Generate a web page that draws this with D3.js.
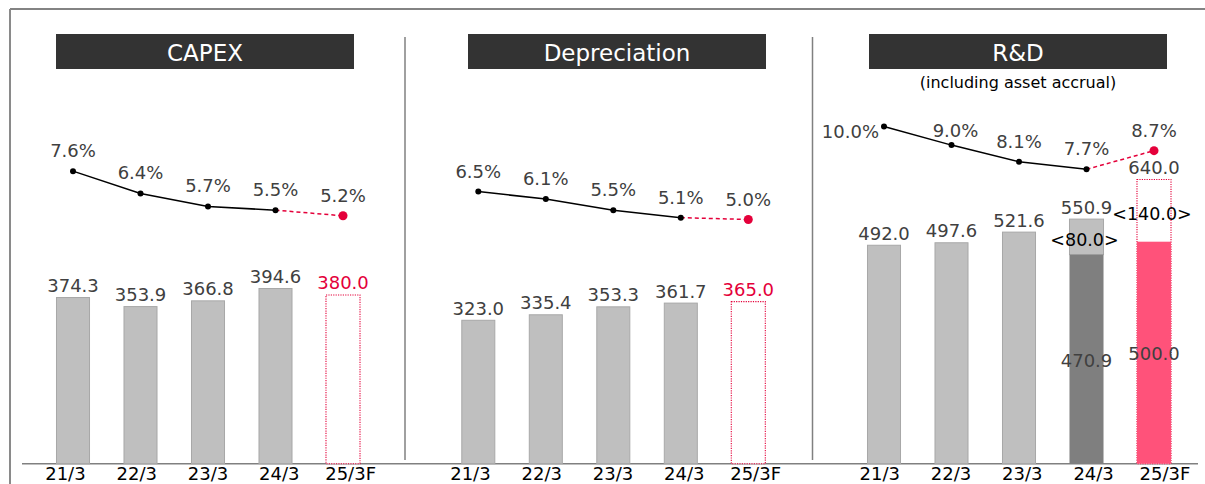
<!DOCTYPE html>
<html>
<head>
<meta charset="utf-8">
<script src="https://cdn.jsdelivr.net/npm/d3@7"></script>
<style>
  html, body { margin: 0; padding: 0; background: #ffffff; }
  #chart { width: 1205px; height: 484px; overflow: hidden; }
</style>
</head>
<body>
<div id="chart"></div>
<script>
// ---------------- DATA ----------------
const categories = ["21/3", "22/3", "23/3", "24/3", "25/3F"];
const panelTitles = ["CAPEX", "Depreciation", "R&D"];
const rdSubtitle = "(including asset accrual)";

const capexValues = [374.3, 353.9, 366.8, 394.6, 380.0];
const capexRatio  = [7.6, 6.4, 5.7, 5.5, 5.2];

const deprValues  = [323.0, 335.4, 353.3, 361.7, 365.0];
const deprRatio   = [6.5, 6.1, 5.5, 5.1, 5.0];

const rdValues        = [492.0, 497.6, 521.6, 550.9, 640.0];
const rdRatio         = [10.0, 9.0, 8.1, 7.7, 8.7];
const rdAssetAccrual  = [0, 0, 0, 80.0, 140.0];

// ---------------- LAYOUT ----------------
const W = 1205, H = 484;
const baseY = 463.7;
const C = {
  gray: "#bfbfbf", grayStroke: "#a8a8a8", dark: "#7f7f7f",
  red: "#e4003a", pink: "#ff527a", text: "#404040", frame: "#808080", title: "#333333"
};
const fmt = d3.format(".1f");

const svg = d3.select("#chart").append("svg")
  .attr("width", W).attr("height", H)
  .style("font-family", "'DejaVu Sans', Verdana, sans-serif");

// shared scales
const y = d3.scaleLinear().domain([0, 1000]).range([baseY, baseY - 444]);
const pct = d3.scaleLinear().domain([0, 10]).range([312.5, 126.5]);

const panels = [
  { title: panelTitles[0], values: capexValues, ratio: capexRatio, accrual: null,
    x0: 39.25, box: [56, 354], tickMid: 207.5 },
  { title: panelTitles[1], values: deprValues, ratio: deprRatio, accrual: null,
    x0: 444.55, box: [468, 766], tickMid: 612.5 },
  { title: panelTitles[2], values: rdValues, ratio: rdRatio, accrual: rdAssetAccrual,
    x0: 850.25, box: [869, 1167], tickMid: 1021.8, subtitle: rdSubtitle }
];

// frame
svg.append("line").attr("x1", 10).attr("x2", W).attr("y1", 9).attr("y2", 9)
  .attr("stroke", "#5a5a5a").attr("stroke-width", 1.5);
svg.append("line").attr("x1", 10).attr("x2", 10).attr("y1", 9).attr("y2", H)
  .attr("stroke", "#8a8a8a").attr("stroke-width", 2);

// dividers
[405, 812.5].forEach(x => {
  svg.append("line").attr("x1", x).attr("x2", x).attr("y1", 37).attr("y2", 460)
    .attr("stroke", C.frame).attr("stroke-width", 1.5);
});

// baseline
svg.append("line").attr("x1", 22).attr("x2", 1198).attr("y1", baseY).attr("y2", baseY)
  .attr("stroke", C.frame).attr("stroke-width", 1.5);

panels.forEach((p, pi) => {
  const g = svg.append("g");
  const x = d3.scaleBand().domain(categories)
    .range([p.x0, p.x0 + 337.5]).paddingInner(0.496).paddingOuter(0.248);
  const bw = x.bandwidth();
  const cx = c => x(c) + bw / 2;
  const last = categories.length - 1;

  // title box
  g.append("rect").attr("x", p.box[0]).attr("y", 34)
    .attr("width", p.box[1] - p.box[0]).attr("height", 35).attr("fill", C.title);
  g.append("text").attr("x", (p.box[0] + p.box[1]) / 2).attr("y", 61)
    .attr("text-anchor", "middle").attr("fill", "#ffffff").attr("font-size", 23)
    .text(p.title);
  if (p.subtitle) {
    g.append("text").attr("x", (p.box[0] + p.box[1]) / 2).attr("y", 88)
      .attr("text-anchor", "middle").attr("fill", "#000").attr("font-size", 16)
      .text(p.subtitle);
  }

  // bars
  categories.forEach((c, i) => {
    const v = p.values[i];
    const acc = p.accrual ? p.accrual[i] : 0;
    const isFc = i === last;
    if (isFc) {
      g.append("rect").attr("x", x(c)).attr("y", y(v))
        .attr("width", bw).attr("height", baseY - y(v))
        .attr("fill", "#fff").attr("stroke", C.red).attr("stroke-width", 1.1)
        .attr("stroke-dasharray", "1.2,1.2");
      if (acc > 0) {
        const b = v - acc;
        g.append("rect").attr("x", x(c)).attr("y", y(b))
          .attr("width", bw).attr("height", baseY - y(b)).attr("fill", C.pink);
      }
    } else if (acc > 0) {
      const b = v - acc;
      g.append("rect").attr("x", x(c)).attr("y", y(v))
        .attr("width", bw).attr("height", y(b) - y(v))
        .attr("fill", C.gray).attr("stroke", C.grayStroke).attr("stroke-width", 1);
      g.append("rect").attr("x", x(c)).attr("y", y(b))
        .attr("width", bw).attr("height", baseY - y(b)).attr("fill", C.dark);
    } else {
      g.append("rect").attr("x", x(c) + 0.5).attr("y", y(v))
        .attr("width", bw - 1).attr("height", baseY - y(v))
        .attr("fill", C.gray).attr("stroke", C.grayStroke).attr("stroke-width", 1);
    }

    // total label
    g.append("text").attr("x", cx(c)).attr("y", y(v) - 5.5)
      .attr("text-anchor", "middle").attr("font-size", 18)
      .attr("fill", (isFc && !p.accrual) ? C.red : C.text)
      .text(fmt(v));

    if (acc > 0) {
      const b = v - acc;
      g.append("text").attr("x", cx(c)).attr("y", (y(b) + baseY) / 2 + 7.5)
        .attr("text-anchor", "middle").attr("font-size", 18).attr("fill", C.text)
        .text(fmt(b));
      g.append("text").attr("x", cx(c) - 2).attr("y", (y(v) + y(b)) / 2 + 9.5)
        .attr("text-anchor", "middle").attr("font-size", 17.5).attr("fill", "#000")
        .text("<" + fmt(acc) + ">");
    }
  });

  // ratio line
  const pts = categories.map((c, i) => [cx(c), pct(p.ratio[i])]);
  const line = d3.line();
  g.append("path").attr("d", line(pts.slice(0, last)))
    .attr("fill", "none").attr("stroke", "#000").attr("stroke-width", 1.5);
  g.append("path").attr("d", line(pts.slice(last - 1)))
    .attr("fill", "none").attr("stroke", C.red).attr("stroke-width", 1.5)
    .attr("stroke-dasharray", "4,3");
  pts.forEach((pt, i) => {
    g.append("circle").attr("cx", pt[0]).attr("cy", pt[1])
      .attr("r", i === last ? 4.5 : 3).attr("fill", i === last ? C.red : "#000");
  });
  pts.forEach((pt, i) => {
    let tx = pt[0], ty = pt[1] - 14, anchor = "middle";
    if (pi === 2 && i === 0) { tx = pt[0] - 5; ty = pt[1] + 11.5; anchor = "end"; }
    if (pi === 2 && i === 1) { tx = pt[0] + 4; ty = pt[1] - 8; }
    g.append("text").attr("x", tx).attr("y", ty).attr("text-anchor", anchor)
      .attr("font-size", 18).attr("fill", C.text)
      .text(fmt(p.ratio[i]) + "%");
  });

  // category axis
  const tx = d3.scalePoint().domain(categories)
    .range([p.tickMid - 2 * 71.3, p.tickMid + 2 * 71.3]);
  const ax = g.append("g").attr("transform", `translate(0,${baseY})`)
    .call(d3.axisBottom(tx).tickSize(0).tickPadding(3.5));
  ax.select(".domain").remove();
  ax.selectAll("text").attr("font-size", 18).attr("fill", "#000")
    .attr("font-family", "'DejaVu Sans', Verdana, sans-serif");
});
</script>
</body>
</html>
